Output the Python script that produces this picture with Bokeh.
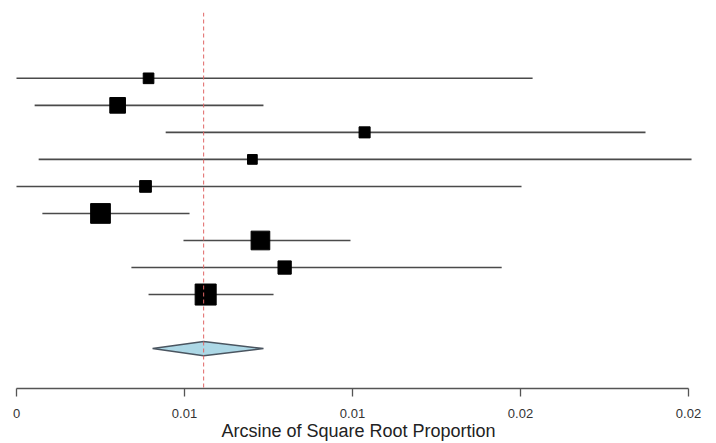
from bokeh.plotting import figure
from bokeh.models import Span, FixedTicker, ColumnDataSource
from bokeh.embed import file_html
from bokeh.resources import INLINE

# ---- data ----
study_rows = [11, 10, 9, 8, 7, 6, 5, 4, 3]
estimates = [0.00393, 0.00301, 0.01036, 0.00702, 0.00384, 0.00250, 0.00726, 0.00798, 0.00563]
ci_lower = [0.00000, 0.00054, 0.00444, 0.00066, 0.00000, 0.00077, 0.00497, 0.00342, 0.00393]
ci_upper = [0.01536, 0.00735, 0.01872, 0.02009, 0.01503, 0.00515, 0.00994, 0.01444, 0.00765]
weights = [8.1, 11.9, 8.4, 7.4, 8.9, 15.0, 14.2, 10.1, 16.0]  # percent

summary_row = 1
summary_est = 0.00557
summary_lo = 0.00405
summary_hi = 0.00735

tick_values = [0, 0.005, 0.01, 0.015, 0.02]
tick_labels = ["0", "0.01", "0.01", "0.02", "0.02"]
x_title = "Arcsine of Square Root Proportion"

FONT = "Liberation Sans"

p = figure(width=716, height=443, output_backend="svg", toolbar_location=None,
           x_range=(-0.000476, 0.020833), y_range=(-0.476, 13.435),
           y_axis_location=None, min_border_left=0, min_border_right=0,
           min_border_top=12, min_border_bottom=0)
p.outline_line_color = None
p.xgrid.visible = False
p.ygrid.visible = False
p.background_fill_color = "white"
p.border_fill_color = "white"

# reference line at summary estimate
p.add_layout(Span(location=summary_est, dimension="height", line_color="#e06666",
                  line_dash="4 3", line_width=1))

src = ColumnDataSource(dict(y=study_rows, est=estimates, lo=ci_lower, hi=ci_upper,
                            size=[w * 1.315 for w in weights]))
p.segment(x0="lo", y0="y", x1="hi", y1="y", source=src, line_color="#4a4a4a", line_width=1.6)
p.scatter(x="est", y="y", size="size", marker="square", source=src,
          fill_color="black", line_color="black")

h = 0.26
p.patch([summary_lo, summary_est, summary_hi, summary_est],
        [summary_row, summary_row + h, summary_row, summary_row - h],
        fill_color="#ADD8E6", line_color="#4a5560", line_width=1.5)

ax = p.xaxis[0]
ax.bounds = (0, 0.02)
ax.ticker = FixedTicker(ticks=tick_values, minor_ticks=[])
ax.major_label_overrides = {v: l for v, l in zip(tick_values, tick_labels)}
ax.axis_line_color = "#555555"
ax.axis_line_width = 1.3
ax.major_tick_line_color = "#555555"
ax.major_tick_line_width = 1.3
ax.major_tick_out = 8
ax.major_tick_in = 0
ax.minor_tick_out = 0
ax.major_label_standoff = 12
ax.major_label_text_font = FONT
ax.major_label_text_font_size = "13px"
ax.major_label_text_color = "#333333"
ax.axis_label = x_title
ax.axis_label_text_font = FONT
ax.axis_label_text_font_size = "18px"
ax.axis_label_text_font_style = "normal"
ax.axis_label_text_color = "#222222"
ax.axis_label_standoff = 0

open("out.html", "w").write(file_html(p, INLINE))
